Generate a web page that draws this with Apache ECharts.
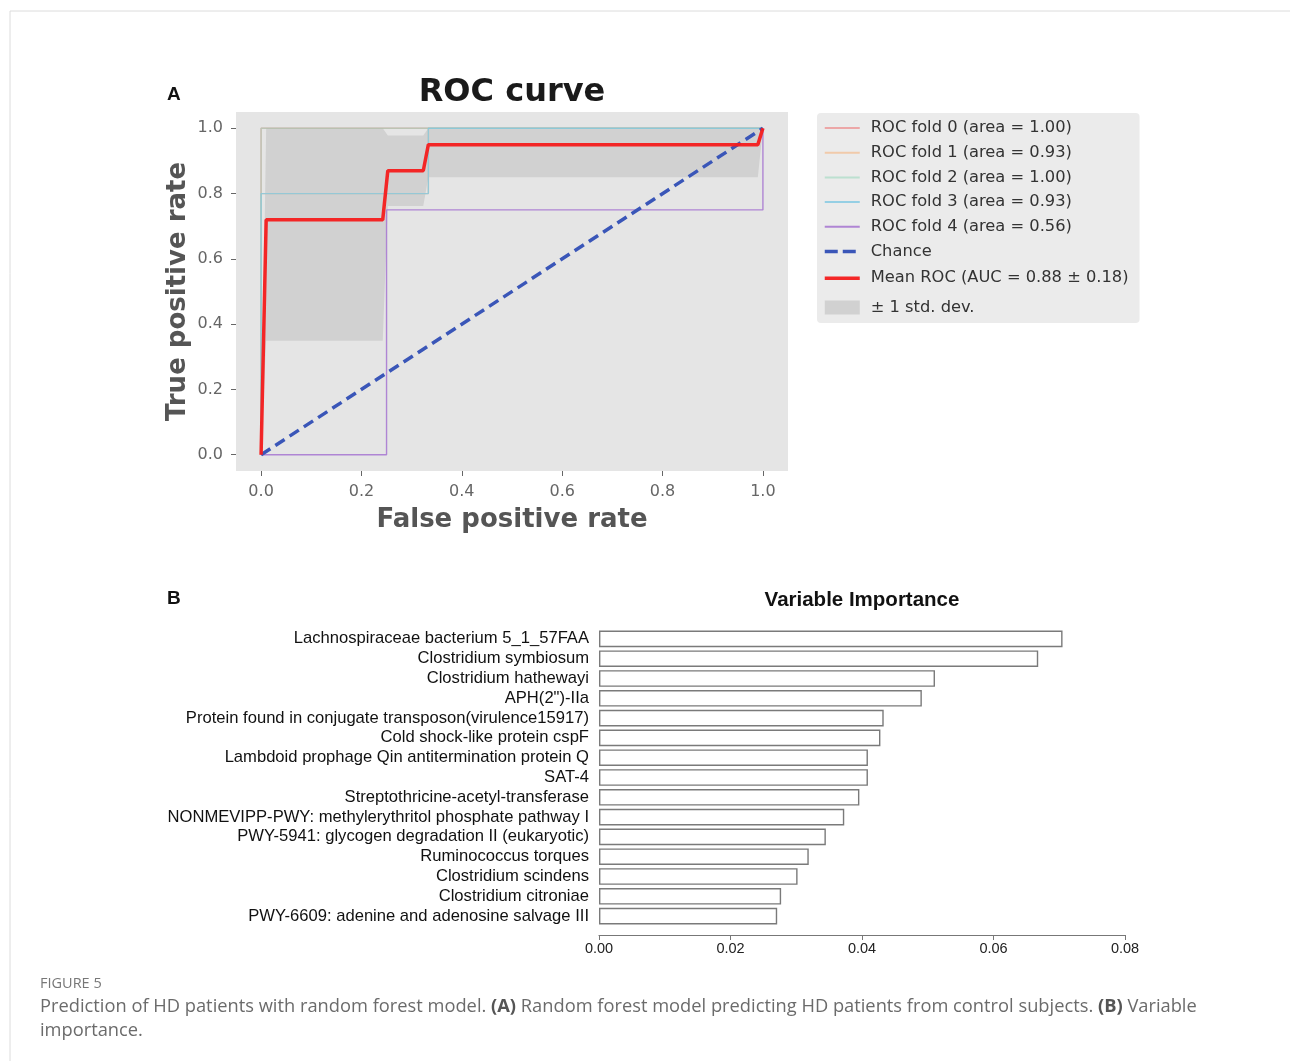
<!DOCTYPE html>
<html>
<head>
<meta charset="utf-8">
<script src="https://cdn.jsdelivr.net/npm/echarts@6/dist/echarts.min.js"></script>
<style>
html,body{margin:0;padding:0;background:#fff;}
#main{width:1290px;height:1061px;}
</style>
</head>
<body>
<div id="main"></div>
<script>
// ---------- ROC data ----------
const rocTicks = [0, 0.2, 0.4, 0.6, 0.8, 1.0];
const fold0 = [[0, 0], [0, 1], [1, 1]];
const fold1 = [[0, 0], [0, 0.8], [0.3333, 0.8], [0.3333, 1], [1, 1]];
const fold2 = [[0, 0], [0, 1], [1, 1]];
const fold3 = [[0, 0], [0, 0.8], [0.3333, 0.8], [0.3333, 1], [1, 1]];
const fold4 = [[0, 0], [0.25, 0], [0.25, 0.75], [1, 0.75], [1, 1]];
const chance = [[0, 0], [1, 1]];
const meanFpr = [0, 0.0101, 0.2424, 0.2525, 0.3232, 0.3333, 0.9899, 1];
const meanTpr = [0, 0.72, 0.72, 0.87, 0.87, 0.95, 0.95, 1];
const bandFpr = [0, 0.0101, 0.2424, 0.2525, 0.3232, 0.3333, 0.9899, 1];
const bandLow = [0, 0.349, 0.349, 0.762, 0.762, 0.85, 0.85, 1];
const bandHigh = [0, 1, 1, 0.978, 0.978, 1, 1, 1];
const foldNames = [
  'ROC fold 0 (area = 1.00)',
  'ROC fold 1 (area = 0.93)',
  'ROC fold 2 (area = 1.00)',
  'ROC fold 3 (area = 0.93)',
  'ROC fold 4 (area = 0.56)'
];

// ---------- Variable importance data ----------
const features = [
  'Lachnospiraceae bacterium 5_1_57FAA',
  'Clostridium symbiosum',
  'Clostridium hathewayi',
  'APH(2")-IIa',
  'Protein found in conjugate transposon(virulence15917)',
  'Cold shock-like protein cspF',
  'Lambdoid prophage Qin antitermination protein Q',
  'SAT-4',
  'Streptothricine-acetyl-transferase',
  'NONMEVIPP-PWY: methylerythritol phosphate pathway I',
  'PWY-5941: glycogen degradation II (eukaryotic)',
  'Ruminococcus torques',
  'Clostridium scindens',
  'Clostridium citroniae',
  'PWY-6609: adenine and adenosine salvage III'
];
const importance = [0.0705, 0.0668, 0.0511, 0.0491, 0.0433, 0.0428, 0.0409, 0.0409,
  0.0396, 0.0373, 0.0345, 0.0319, 0.0302, 0.0277, 0.0271];

const foldColors = ['#ec7a7a', '#f3c29a', '#9cd8be', '#7fc8e2', '#a87ad2'];
const foldOpacity = [0.6, 0.8, 0.6, 0.8, 0.9];
const foldData = [fold0, fold1, fold2, fold3, fold4];

const mpl = 'DejaVu Sans';
const arial = 'Liberation Sans, Arial, sans-serif';

const chart = echarts.init(document.getElementById('main'), null, {renderer: 'canvas'});

const series = [];
foldData.forEach((d, i) => {
  series.push({
    name: foldNames[i], type: 'line', xAxisIndex: 0, yAxisIndex: 0,
    data: d, symbol: 'none', z: 3,
    lineStyle: {color: foldColors[i], width: 1.4, opacity: foldOpacity[i]},
    itemStyle: {color: foldColors[i]}
  });
});
series.push({
  name: 'Chance', type: 'line', xAxisIndex: 0, yAxisIndex: 0,
  data: chance, symbol: 'none', z: 4,
  lineStyle: {color: '#3a56b8', width: 3.5, type: [11, 6]},
  itemStyle: {color: '#3a56b8'}
});
series.push({
  name: 'Mean ROC (AUC = 0.88 ± 0.18)', type: 'line', xAxisIndex: 0, yAxisIndex: 0,
  data: meanFpr.map((x, i) => [x, meanTpr[i]]), symbol: 'none', z: 5,
  lineStyle: {color: '#f41c1c', width: 3.5, opacity: 0.95},
  itemStyle: {color: '#f41c1c'}
});
series.push({
  name: '± 1 std. dev.', type: 'custom', xAxisIndex: 0, yAxisIndex: 0, z: 2,
  data: bandFpr.map((x, i) => [x, bandLow[i], bandHigh[i]]),
  encode: {x: 0, y: [1, 2]},
  itemStyle: {color: '#d1d1d1'},
  renderItem: function (params, api) {
    if (params.dataIndex !== 0) return null;
    const pts = [];
    for (let i = 0; i < bandFpr.length; i++) pts.push(api.coord([bandFpr[i], bandHigh[i]]));
    for (let i = bandFpr.length - 1; i >= 0; i--) pts.push(api.coord([bandFpr[i], bandLow[i]]));
    return {type: 'polygon', shape: {points: pts}, style: {fill: '#d1d1d1'}};
  }
});
series.push({
  name: 'importance', type: 'bar', xAxisIndex: 1, yAxisIndex: 1,
  data: importance, barCategoryGap: '16%',
  itemStyle: {color: '#ffffff', borderColor: '#7a7a7a', borderWidth: 1.4},
  silent: true
});

const option = {
  animation: false,
  backgroundColor: '#ffffff',
  legend: {
    left: 817, top: 113, orient: 'vertical',
    backgroundColor: '#ebebeb', borderRadius: 4,
    padding: [5, 11, 3, 6],
    itemWidth: 35, itemHeight: 14, itemGap: 4.7,
    itemStyle: {opacity: 0},
    textStyle: {fontFamily: mpl, fontSize: 16.3, color: '#333', padding: [0, 0, 0, 6], lineHeight: 20},
    data: [
      foldNames[0], foldNames[1], foldNames[2], foldNames[3], foldNames[4],
      {name: 'Chance', lineStyle: {width: 3.5, type: [13, 5]}},
      {name: 'Mean ROC (AUC = 0.88 ± 0.18)', lineStyle: {width: 3.5}, textStyle: {lineHeight: 24}},
      {name: '± 1 std. dev.', icon: 'rect', itemStyle: {opacity: 1, color: '#d1d1d1'}, textStyle: {lineHeight: 25}}
    ],
    selectedMode: false
  },
  grid: [
    {left: 236, top: 112, width: 552, height: 359, show: true, backgroundColor: '#e5e5e5', borderWidth: 0},
    {left: 599, top: 629, width: 526, height: 297, show: false}
  ],
  xAxis: [
    {
      type: 'value', gridIndex: 0, min: -0.05, max: 1.05,
      name: 'False positive rate', nameLocation: 'middle', nameGap: 36,
      nameTextStyle: {fontFamily: mpl, fontWeight: 'bold', fontSize: 26, color: '#555'},
      axisLine: {show: false, onZero: false}, splitLine: {show: false},
      axisTick: {show: true, length: 5, customValues: rocTicks, lineStyle: {color: '#666'}},
      axisLabel: {customValues: rocTicks, margin: 13, fontFamily: mpl, fontSize: 16, color: '#666',
        formatter: v => v.toFixed(1)}
    },
    {
      type: 'value', gridIndex: 1, min: 0, max: 0.08, interval: 0.02, position: 'bottom', offset: 9,
      axisLine: {show: true, lineStyle: {color: '#777', width: 1.2}},
      axisTick: {show: true, length: 5, lineStyle: {color: '#777'}},
      splitLine: {show: false},
      axisLabel: {margin: 6, fontFamily: arial, fontSize: 14.5, color: '#222',
        formatter: v => v.toFixed(2), showMinLabel: true, showMaxLabel: true}
    }
  ],
  yAxis: [
    {
      type: 'value', gridIndex: 0, min: -0.05, max: 1.05,
      name: 'True positive rate', nameLocation: 'middle', nameGap: 45, nameRotate: 90,
      nameTextStyle: {fontFamily: mpl, fontWeight: 'bold', fontSize: 26, color: '#555'},
      axisLine: {show: false, onZero: false}, splitLine: {show: false},
      axisTick: {show: true, length: 5, customValues: rocTicks, lineStyle: {color: '#666'}},
      axisLabel: {customValues: rocTicks, margin: 13, fontFamily: mpl, fontSize: 16, color: '#666',
        formatter: v => v.toFixed(1)}
    },
    {
      type: 'category', gridIndex: 1, data: features, inverse: true,
      axisLine: {show: false}, axisTick: {show: false}, splitLine: {show: false},
      axisLabel: {margin: 10, fontFamily: arial, fontSize: 16.6, color: '#111', interval: 0, padding: [4, 0, 0, 0]}
    }
  ],
  graphic: [
    {type: 'line', shape: {x1: 10, y1: 11, x2: 1290, y2: 11}, style: {stroke: '#dcdcdc', lineWidth: 1}},
    {type: 'line', shape: {x1: 10, y1: 11, x2: 10, y2: 1061}, style: {stroke: '#dcdcdc', lineWidth: 1}},
    {type: 'text', x: 512, y: 93, style: {text: 'ROC curve', font: 'bold 32px "DejaVu Sans"', fill: '#1a1a1a', textAlign: 'center', textVerticalAlign: 'middle'}},
    {type: 'text', x: 862, y: 600, style: {text: 'Variable Importance', font: 'bold 20.5px ' + arial, fill: '#111', textAlign: 'center', textVerticalAlign: 'middle'}},
    {type: 'text', left: 167, top: 85, style: {text: 'A', font: 'bold 19px ' + arial, fill: '#111'}},
    {type: 'text', left: 167, top: 589, style: {text: 'B', font: 'bold 19px ' + arial, fill: '#111'}},
    {type: 'text', left: 40, top: 976, style: {text: 'FIGURE 5', font: '14.5px "Open Sans"', fill: '#777'}},
    {type: 'text', left: 40, top: 995, style: {
      text: 'Prediction of HD patients with random forest model. {b|(A)} Random forest model predicting HD patients from control subjects. {b|(B)} Variable\nimportance.',
      font: '18.3px "Open Sans"', fill: '#6b6b6b', lineHeight: 24,
      rich: {b: {fontWeight: 'bold', fontFamily: 'Open Sans', fontSize: 18.3, fill: '#555', lineHeight: 24}}
    }}
  ],
  series: series
};
chart.setOption(option);
</script>
</body>
</html>
